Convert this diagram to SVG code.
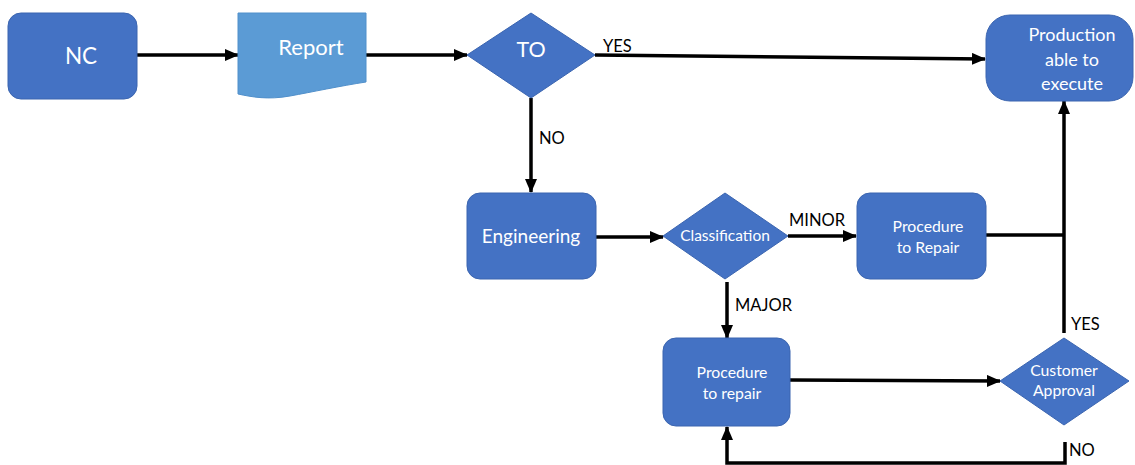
<svg xmlns="http://www.w3.org/2000/svg" width="1135" height="465" viewBox="0 0 1135 465">
  <defs>
    <marker id="arrow" markerUnits="userSpaceOnUse" markerWidth="14" markerHeight="12" refX="13" refY="6" orient="auto">
      <path d="M0,0 L14,6 L0,12 Z" fill="#000"/>
    </marker>
    <style>
      .node { fill: #4472C4; stroke: #3B65B0; stroke-width: 1; }
      .doc { fill: #5B9BD5; stroke: #5190CB; stroke-width: 1; }
      .lbl { fill: #FFFFFF; font-family: Lato, "Open Sans", "Liberation Sans", sans-serif; text-anchor: middle; }
      .edge { fill: none; stroke: #000; stroke-width: 3.5; }
      .elbl { fill: #000; font-family: Lato, "Open Sans", "Liberation Sans", sans-serif; font-size: 16.5px; }
    </style>
  </defs>
  <rect width="1135" height="465" fill="#FFFFFF"/>

  <!-- connectors -->
  <g id="connectors">
    <path class="edge" d="M137,55 H238" marker-end="url(#arrow)"/>
    <path class="edge" d="M366,55 H467" marker-end="url(#arrow)"/>
    <path class="edge" d="M595,55 L985,59" marker-end="url(#arrow)"/>
    <path class="edge" d="M531,98 V192" marker-end="url(#arrow)"/>
    <path class="edge" d="M596,237 H663" marker-end="url(#arrow)"/>
    <path class="edge" d="M788,236 H856" marker-end="url(#arrow)"/>
    <path class="edge" d="M727,282 V338" marker-end="url(#arrow)"/>
    <path class="edge" d="M986,235 H1064"/>
    <path class="edge" d="M1064,333 V101" marker-end="url(#arrow)"/>
    <path class="edge" d="M790,380 L1000,381" marker-end="url(#arrow)"/>
    <path class="edge" d="M1065,442 V463 H727 V427" marker-end="url(#arrow)"/>
    <text class="elbl" x="603" y="52">YES</text>
    <text class="elbl" x="539" y="144">NO</text>
    <text class="elbl" x="789" y="226">MINOR</text>
    <text class="elbl" x="735" y="311">MAJOR</text>
    <text class="elbl" x="1071" y="330">YES</text>
    <text class="elbl" x="1069" y="456">NO</text>
  </g>

  <g id="nc">
    <rect class="node" x="8" y="13" width="129" height="86" rx="13"/>
    <text class="lbl" x="81" y="64" font-size="22.5">NC</text>
  </g>

  <g id="report">
    <path class="doc" d="M238,13 H366 V82 C340,86 312,92 290,96 C268,100 252,97 238,94 Z"/>
    <text class="lbl" x="311" y="55" font-size="22">Report</text>
  </g>

  <g id="to">
    <path class="node" d="M531,13 L595,55 L531,98 L467,55 Z"/>
    <text class="lbl" x="531" y="57" font-size="21.5">TO</text>
  </g>

  <g id="production">
    <rect class="node" x="986" y="15" width="147" height="86" rx="24"/>
    <text class="lbl" x="1072" y="41" font-size="18">Production</text>
    <text class="lbl" x="1072" y="66" font-size="18">able to</text>
    <text class="lbl" x="1072" y="90" font-size="18">execute</text>
  </g>

  <g id="engineering">
    <rect class="node" x="467" y="193" width="129" height="86" rx="13"/>
    <text class="lbl" x="531" y="243" font-size="19">Engineering</text>
  </g>

  <g id="classification">
    <path class="node" d="M725,193 L788,236 L725,279 L663,236 Z"/>
    <text class="lbl" x="725" y="241" font-size="15.5">Classification</text>
  </g>

  <g id="procedure-minor">
    <rect class="node" x="857" y="193" width="129" height="86" rx="13"/>
    <text class="lbl" x="928" y="232" font-size="15.8">Procedure</text>
    <text class="lbl" x="928" y="253" font-size="15.8">to Repair</text>
  </g>

  <g id="procedure-major">
    <rect class="node" x="663" y="338" width="127" height="88" rx="13"/>
    <text class="lbl" x="732" y="378" font-size="15.8">Procedure</text>
    <text class="lbl" x="732" y="399" font-size="15.8">to repair</text>
  </g>

  <g id="customer-approval">
    <path class="node" d="M1064,338 L1129,381 L1064,425 L1000,381 Z"/>
    <text class="lbl" x="1064" y="376" font-size="15.8">Customer</text>
    <text class="lbl" x="1064" y="396" font-size="15.8">Approval</text>
  </g>
</svg>
